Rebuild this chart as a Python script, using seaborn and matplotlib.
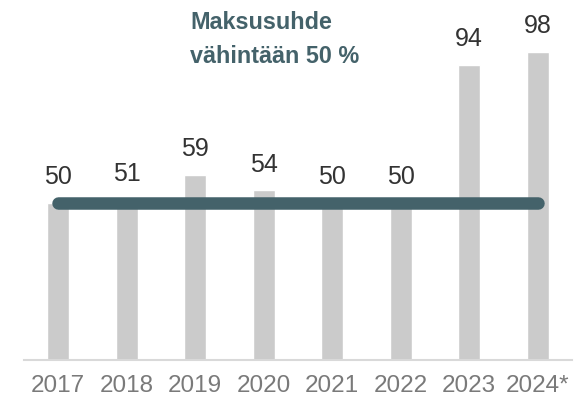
import numpy as np
import pandas as pd
import seaborn as sns
import matplotlib.pyplot as plt

years = ["2017", "2018", "2019", "2020", "2021", "2022", "2023", "2024*"]
ratios = [50, 51, 59, 54, 50, 50, 94, 98]
min_ratio = 50
title_text = "Maksusuhde\nvähintään 50 %"

BAR_COLOR = "#cbcbcb"
LINE_COLOR = "#44626a"

sns.set_theme(style = "white")
plt.rcParams["font.family"] = ["Liberation Sans", "DejaVu Sans"]

frame = pd.DataFrame({"year": years, "ratio": ratios})

fig = plt.figure(figsize = (5.85, 4.01), dpi = 100)
ax = fig.add_axes([24 / 585, 41 / 401, 548 / 585, 360 / 401])

sns.barplot(data = frame, x = "year", y = "ratio", color = BAR_COLOR, width = 0.32,
            saturation = 1, ax = ax)
ax.bar_label(ax.containers[0], fmt = "%d", padding = 10, fontsize = 18, color = "#333333")

# minimum payout ratio line across all years
ax.plot([0, len(years) - 1], [min_ratio, min_ratio], color = LINE_COLOR, linewidth = 9,
        solid_capstyle = "round", zorder = 5)

ax.set_ylim(0, 360 / 3.14)
ax.set_xlim(-0.5, len(years) - 0.5)
ax.set_xlabel("")
ax.set_ylabel("")
ax.set_yticks([])
for side in ["left", "right", "top"]:
    ax.spines[side].set_visible(False)
ax.spines["bottom"].set_color("#d9d9d9")
ax.spines["bottom"].set_linewidth(1.5)
ax.tick_params(axis = "x", length = 0, pad = 11, labelsize = 17.5, labelcolor = "#7a7a7a")

fig.text(190 / 585, 1 - 11 / 401, title_text, ha = "left", va = "top", fontsize = 16.8,
         fontweight = "bold", color = LINE_COLOR, linespacing = 1.6)

fig.savefig("out.png", dpi = 100)
